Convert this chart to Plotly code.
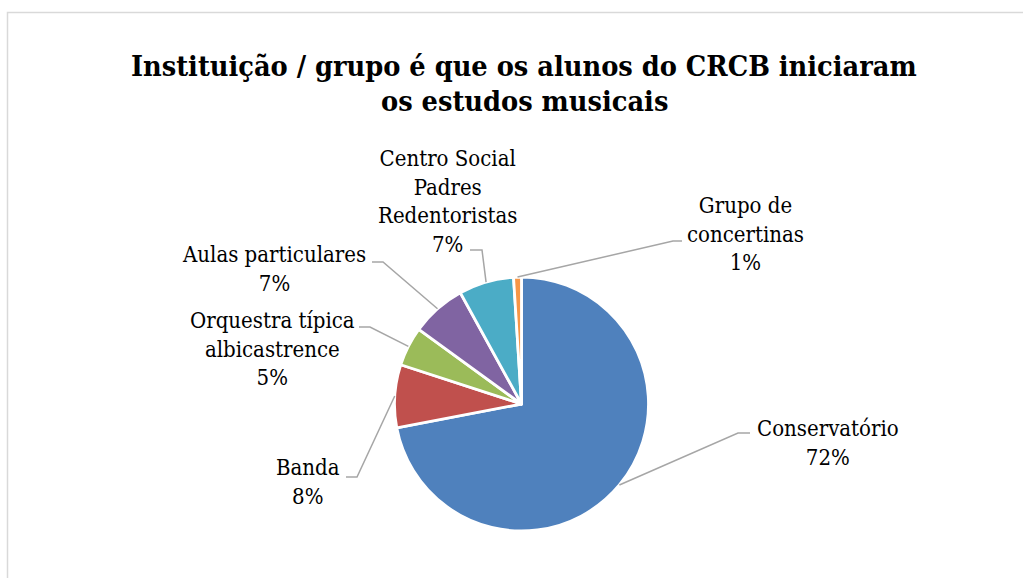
import math
import plotly.graph_objects as go

# Data
categories = [
    "Conservatório",
    "Banda",
    "Orquestra típica<br>albicastrence",
    "Aulas particulares",
    "Centro Social<br>Padres<br>Redentoristas",
    "Grupo de<br>concertinas",
]
shares = [72, 8, 5, 7, 7, 1]
colors = ["#4F81BD", "#C0504D", "#9BBB59", "#8064A2", "#4BACC6", "#F79646"]
title_lines = [
    "Instituição / grupo é que os alunos do CRCB iniciaram",
    "os estudos musicais",
]

W, H = 1023, 578
FONT = "DejaVu Serif Condensed, DejaVu Serif, serif"

# Pie placement (pixels)
CX, CY, R = 521.5, 404.0, 127.0

# Label block centres and leader-line elbows/ends (pixels)
label_pos = [(828, 443), (308, 482), (272, 349), (274, 269), (447, 201), (745, 234)]
elbows = [
    ((738, 433), (750, 433)),
    ((357, 477), (346, 477)),
    ((370, 327), (359, 327)),
    ((383, 262), (372, 262)),
    ((482, 250), (470, 250)),
    ((673, 241), (682, 241)),
]
# Title line centres (pixels)
title_y = [66, 101]

fig = go.Figure()

fig.add_trace(go.Pie(
    labels=[c.replace("<br>", " ") for c in categories],
    values=shares,
    sort=False,
    direction="clockwise",
    rotation=0,
    marker=dict(colors=colors, line=dict(color="white", width=2.8)),
    textinfo="none",
    hoverinfo="skip",
    showlegend=False,
    domain=dict(
        x=[(CX - R) / W, (CX + R) / W],
        y=[1 - (CY + R) / H, 1 - (CY - R) / H],
    ),
))

# Invisible pixel-space axes for labels and leader lines
fig.add_trace(go.Scatter(x=[0, W], y=[0, H], mode="markers",
                         marker=dict(opacity=0), hoverinfo="skip", showlegend=False))

total = sum(shares)
shapes = []
annotations = []
cum = 0.0
for cat, v, (lx, ly), (elb, end) in zip(categories, shares, label_pos, elbows):
    mid = (cum + v / 2) / total * 2 * math.pi
    cum += v
    ex = CX + R * math.sin(mid)
    ey = CY - R * math.cos(mid)
    shapes.append(dict(
        type="path", xref="x", yref="y",
        path=f"M {ex:.2f},{ey:.2f} L {elb[0]},{elb[1]} L {end[0]},{end[1]}",
        line=dict(color="#A6A6A6", width=1.5),
    ))
    pct = v / total * 100
    annotations.append(dict(
        x=lx, y=ly, xref="x", yref="y", showarrow=False,
        xanchor="center", yanchor="middle", align="center",
        text=f"{cat}<br>{pct:.0f}%",
        font=dict(family=FONT, size=22, color="#000000"),
    ))

for line, ty in zip(title_lines, title_y):
    annotations.append(dict(
        x=524, y=ty, xref="x", yref="y", showarrow=False,
        xanchor="center", yanchor="middle", align="center",
        text=f"<b>{line}</b>",
        font=dict(family=FONT, size=28.6, color="#000000"),
    ))

# Chart-area border
shapes.append(dict(type="rect", xref="x", yref="y", x0=7.5, y0=12.5, x1=W + 10, y1=H + 10,
                   line=dict(color="#D9D9D9", width=1.5), layer="below"))

fig.update_layout(
    width=W, height=H,
    margin=dict(l=0, r=0, t=0, b=0),
    paper_bgcolor="white", plot_bgcolor="white",
    xaxis=dict(range=[0, W], visible=False, domain=[0, 1], fixedrange=True),
    yaxis=dict(range=[H, 0], visible=False, domain=[0, 1], fixedrange=True),
    shapes=shapes,
    annotations=annotations,
    showlegend=False,
)

fig.write_html("out.html")
